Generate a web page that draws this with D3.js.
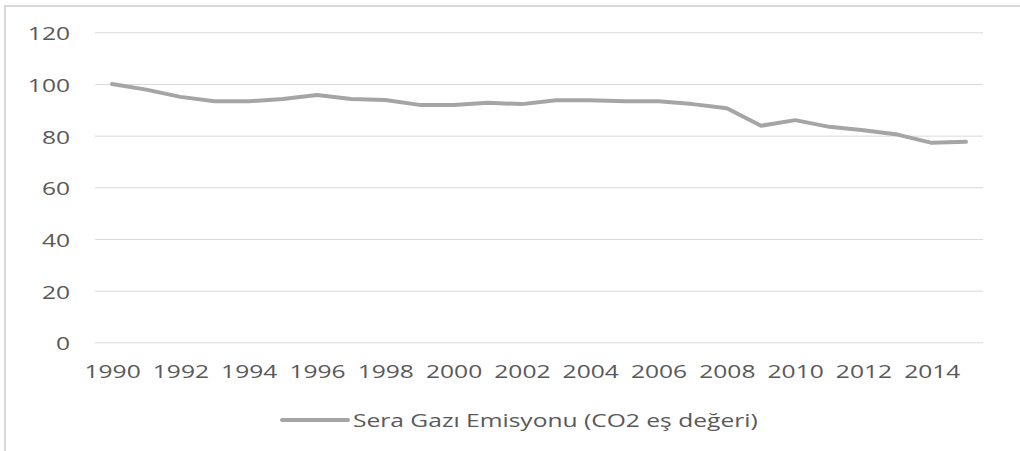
<!DOCTYPE html>
<html>
<head>
<meta charset="utf-8">
<script src="https://cdn.jsdelivr.net/npm/d3@7"></script>
<style>
  body { margin: 0; background: #fff; }
  text { font-family: "Open Sans", sans-serif; fill: #595959; }
</style>
</head>
<body>
<div id="chart-area"></div>
<script>

// SVG Size
var width = 1020,
    height = 451;

// Data
var years = ["1990","1991","1992","1993","1994","1995","1996","1997","1998","1999","2000","2001","2002",
             "2003","2004","2005","2006","2007","2008","2009","2010","2011","2012","2013","2014","2015"];
var emissions = [100, 97.8, 95, 93.3, 93.3, 94.2, 95.7, 94.2, 93.8, 91.9, 91.9, 92.7, 92.2,
                 93.7, 93.7, 93.3, 93.3, 92.2, 90.6, 83.8, 86, 83.4, 82.1, 80.4, 77.2, 77.6];
var yTicks = [0, 20, 40, 60, 80, 100, 120];
var xTickLabels = ["1990","1992","1994","1996","1998","2000","2002","2004","2006","2008","2010","2012","2014"];
var seriesName = "Sera Gazı Emisyonu (CO2 eş değeri)";

// text in the picture is stretched sideways
var sx = 1.33;
var fontSize = 18.5;

var plotLeft = 95, plotRight = 983, plotTop = 32.3, plotBottom = 342.3;

var svg = d3.select("#chart-area")
    .append("svg")
    .attr("width", width)
    .attr("height", height);

// chart frame (runs off the picture on the right and bottom)
svg.append("rect")
    .attr("x", 5)
    .attr("y", 6)
    .attr("width", 1200)
    .attr("height", 600)
    .attr("fill", "none")
    .attr("stroke", "#d9d9d9")
    .attr("stroke-width", 2);

// Scales
var xScale = d3.scalePoint()
    .domain(years)
    .range([plotLeft, plotRight])
    .padding(0.5);

var yScale = d3.scaleLinear()
    .domain([0, 120])
    .range([plotBottom, plotTop]);

// Y axis with gridlines
var yAxis = d3.axisLeft(yScale)
    .tickValues(yTicks)
    .tickSize(-(plotRight - plotLeft))
    .tickPadding(0);

var yG = svg.append("g")
    .attr("class", "axis y-axis")
    .attr("transform", "translate(" + plotLeft + ",0)")
    .call(yAxis);

yG.select(".domain").remove();
yG.selectAll(".tick line")
    .attr("stroke", "#d9d9d9")
    .attr("stroke-width", 1);
yG.selectAll(".tick text")
    .attr("x", -25 / sx)
    .attr("dy", null)
    .attr("y", 7.5)
    .attr("transform", "scale(" + sx + ",1)")
    .style("font-size", fontSize + "px")
    .attr("fill", "#595959");

// X axis (labels only)
var xAxis = d3.axisBottom(xScale)
    .tickValues(xTickLabels)
    .tickSize(0)
    .tickPadding(0);

var xG = svg.append("g")
    .attr("class", "axis x-axis")
    .attr("transform", "translate(0," + plotBottom + ")")
    .call(xAxis);

xG.select(".domain").remove();
xG.selectAll(".tick text")
    .attr("dy", null)
    .attr("y", 35.5)
    .attr("transform", "scale(" + sx + ",1)")
    .style("font-size", fontSize + "px")
    .attr("fill", "#595959");

// The line
var line = d3.line()
    .x(function(d, i) { return xScale(years[i]); })
    .y(function(d) { return yScale(d); });

svg.append("path")
    .datum(emissions)
    .attr("d", line)
    .attr("fill", "none")
    .attr("stroke", "#a5a5a5")
    .attr("stroke-width", 4)
    .attr("stroke-linejoin", "round")
    .attr("stroke-linecap", "round");

// Legend
var legend = svg.append("g")
    .attr("transform", "translate(282,420)");

legend.append("line")
    .attr("x1", 0)
    .attr("x2", 66)
    .attr("y1", 0)
    .attr("y2", 0)
    .attr("stroke", "#a5a5a5")
    .attr("stroke-width", 4)
    .attr("stroke-linecap", "round");

legend.append("text")
    .attr("x", 71 / sx)
    .attr("y", 7)
    .attr("transform", "scale(" + sx + ",1)")
    .style("font-size", fontSize + "px")
    .text(seriesName);

</script>
</body>
</html>
